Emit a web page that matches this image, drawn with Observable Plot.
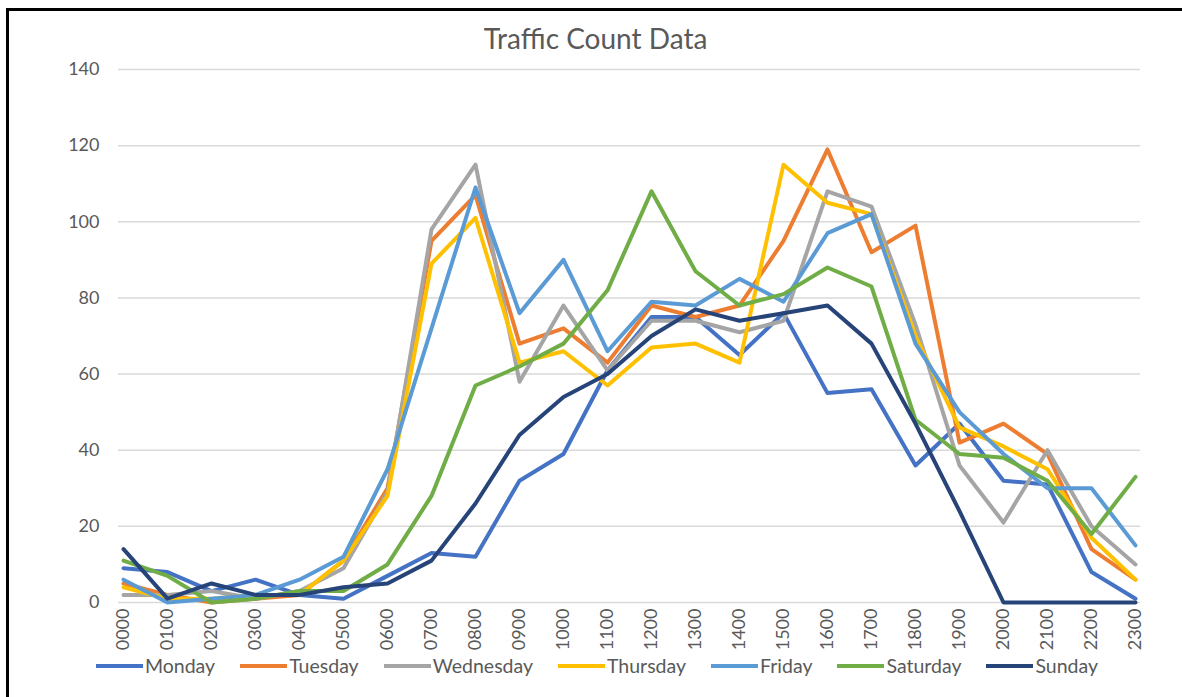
<!DOCTYPE html>
<html>
<head>
<meta charset="utf-8">
<script src="https://cdn.jsdelivr.net/npm/d3@7"></script>
<script src="https://cdn.jsdelivr.net/npm/@observablehq/plot@0.6"></script>
<style>
  html, body { margin: 0; padding: 0; background: #fff; width: 1182px; height: 697px; overflow: hidden; }
  #frame { position: absolute; left: 6px; top: 8px; width: 1190px; height: 700px; border-top: 3px solid #000; border-left: 3px solid #000; box-sizing: border-box; }
  #title { position: absolute; left: 9px; right: 0; top: 22px; text-align: center; font-family: Lato, sans-serif; font-size: 28px; line-height: 32px; color: #595959; }
  #chart { position: absolute; left: 0; top: 50px; }
  #legend { position: absolute; left: 12px; right: 0; top: 655px; display: flex; justify-content: center; align-items: center; font-family: Lato, sans-serif; font-size: 19.5px; color: #595959; line-height: 22px; }
  .item { display: flex; align-items: center; margin: 0 12.5px; }
  .sw { width: 47px; height: 4px; margin-right: 2px; }
</style>
</head>
<body>
<div id="frame"></div>
<div id="title">Traffic Count Data</div>
<div id="chart"></div>
<div id="legend"></div>
<script>
const hours = ["0000","0100","0200","0300","0400","0500","0600","0700","0800","0900","1000","1100","1200","1300","1400","1500","1600","1700","1800","1900","2000","2100","2200","2300"];
const days = ["Monday","Tuesday","Wednesday","Thursday","Friday","Saturday","Sunday"];
const colors = ["#4472C4","#ED7D31","#A5A5A5","#FFC000","#5B9BD5","#70AD47","#264478"];
const yTicks = [0,20,40,60,80,100,120,140];

const monday    = [9,8,3,6,2,1,7,13,12,32,39,61,75,75,65,76,55,56,36,47,32,31,8,1];
const tuesday   = [5,2,0,1,2,11,30,95,107,68,72,63,78,75,78,95,119,92,99,42,47,39,14,6];
const wednesday = [2,2,3,1,3,9,29,98,115,58,78,61,74,74,71,74,108,104,73,36,21,40,20,10];
const thursday  = [4,1,1,2,2,11,28,89,101,63,66,57,67,68,63,115,105,102,70,46,41,35,17,6];
const friday    = [6,0,1,2,6,12,35,72,109,76,90,66,79,78,85,79,97,102,68,50,39,30,30,15];
const saturday  = [11,7,0,1,3,3,10,28,57,62,68,82,108,87,78,81,88,83,48,39,38,32,18,33];
const sunday    = [14,1,5,2,2,4,5,11,26,44,54,60,70,77,74,76,78,68,47,24,0,0,0,0];

const series = [monday, tuesday, wednesday, thursday, friday, saturday, sunday];
const data = [];
series.forEach((vals, i) => vals.forEach((v, j) => data.push({day: days[i], hour: hours[j], value: v})));

const chart = Plot.plot({
  width: 1182,
  height: 610,
  marginLeft: 118,
  marginRight: 42,
  marginTop: 19,
  marginBottom: 58,
  style: {fontFamily: "Lato, sans-serif", fontSize: "18px", color: "#595959", background: "transparent", overflow: "visible"},
  x: {type: "point", domain: hours, padding: 0, label: null},
  y: {domain: [0, 140], label: null},
  color: {domain: days, range: colors},
  marks: [
    Plot.gridY(yTicks, {stroke: "#d9d9d9", strokeOpacity: 1, strokeWidth: 1.5}),
    Plot.axisY(yTicks, {tickSize: 0, tickPadding: 19, label: null, fill: "#595959"}),
    Plot.axisX({tickSize: 0, tickRotate: -90, tickPadding: 6, label: null, fill: "#595959"}),
    Plot.lineY(data, {x: "hour", y: "value", z: "day", stroke: "day", strokeWidth: 4, strokeLinejoin: "round", strokeLinecap: "round"})
  ]
});
document.getElementById("chart").appendChild(chart);

const legend = document.getElementById("legend");
days.forEach((d, i) => {
  const item = document.createElement("div");
  item.className = "item";
  const sw = document.createElement("span");
  sw.className = "sw";
  sw.style.background = colors[i];
  const lb = document.createElement("span");
  lb.textContent = d;
  item.appendChild(sw);
  item.appendChild(lb);
  legend.appendChild(item);
});
</script>
</body>
</html>
